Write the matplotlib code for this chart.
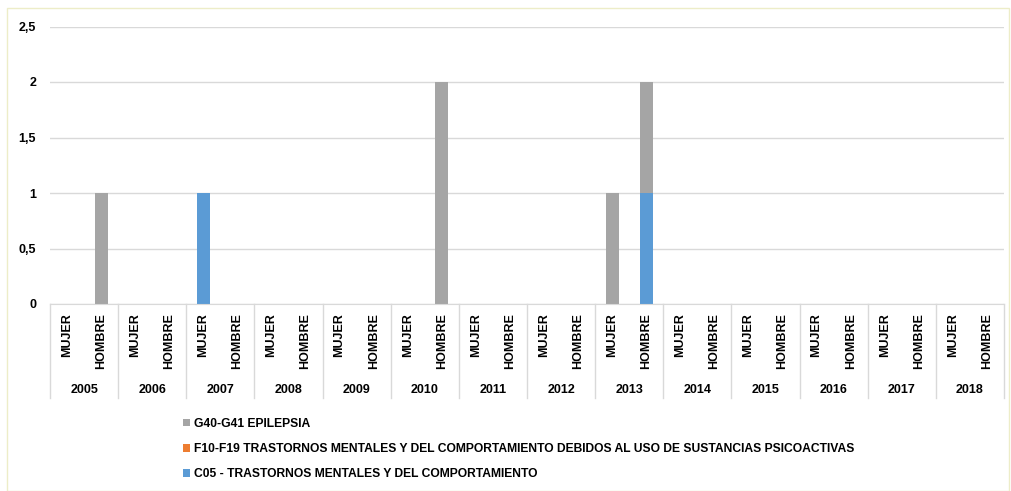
import matplotlib
matplotlib.use("Agg")
import matplotlib.pyplot as plt
from matplotlib.patches import Rectangle
from matplotlib.lines import Line2D
import numpy as np

plt.rcParams['font.family'] = ['Liberation Sans', 'DejaVu Sans']
plt.rcParams['font.weight'] = 'bold'

years = ['2005', '2006', '2007', '2008', '2009', '2010', '2011',
         '2012', '2013', '2014', '2015', '2016', '2017', '2018']
sexes = ['MUJER', 'HOMBRE']

# one value per (year, sex) pair, in order MUJER, HOMBRE
c05 = [0, 0, 0, 0, 1, 0, 0, 0, 0, 0, 0, 0, 0, 0,
       0, 0, 0, 1, 0, 0, 0, 0, 0, 0, 0, 0, 0, 0]
f10 = [0] * 28
g40 = [0, 1, 0, 0, 0, 0, 0, 0, 0, 0, 0, 2, 0, 0,
       0, 0, 1, 1, 0, 0, 0, 0, 0, 0, 0, 0, 0, 0]

labels = ['C05 - TRASTORNOS MENTALES Y DEL COMPORTAMIENTO',
          'F10-F19 TRASTORNOS MENTALES Y DEL COMPORTAMIENTO DEBIDOS AL USO DE SUSTANCIAS PSICOACTIVAS',
          'G40-G41 EPILEPSIA']
colors = ['#5B9BD5', '#ED7D31', '#A5A5A5']

fs = 9

fig = plt.figure(figsize=(10.11, 4.91), dpi=100)
ax = fig.add_axes([50/1011, 1-304/491, 954/1011, 277.5/491])

# outer chart border
fig.patches.append(Rectangle((7/1011, 0), 1002/1011, 1-8/491, transform=fig.transFigure,
                             fill=False, edgecolor='#EDEDC8', linewidth=1))

x = np.arange(len(c05))
w = 0.38
b1 = ax.bar(x, c05, w, color=colors[0])
b2 = ax.bar(x, f10, w, bottom=c05, color=colors[1])
base = np.array(c05) + np.array(f10)
b3 = ax.bar(x, g40, w, bottom=base, color=colors[2])

ax.set_xlim(-0.5, 27.5)
ax.set_ylim(0, 2.5)
ax.set_yticks([0, 0.5, 1, 1.5, 2, 2.5])
ax.set_yticklabels(['0', '0,5', '1', '1,5', '2', '2,5'], fontsize=fs, fontweight='bold')
ax.tick_params(axis='y', length=0, pad=10)
ax.set_xticks([])
ax.grid(axis='y', color='#D9D9D9', linewidth=1)
ax.set_axisbelow(True)
for s in ['top', 'right', 'left']:
    ax.spines[s].set_visible(False)
ax.spines['bottom'].set_color('#D9D9D9')

trans = ax.get_xaxis_transform()
h = 277.5
for i in range(len(x)):
    ax.text(x[i], -9/h, sexes[i % 2], rotation=90, ha='center', va='top',
            fontsize=fs, fontweight='bold', transform=trans)
for j, yr in enumerate(years):
    ax.text(2*j + 0.5, -86/h, yr, ha='center', va='center',
            fontsize=fs, fontweight='bold', transform=trans)
for k in range(len(years) + 1):
    ax.add_line(Line2D([2*k - 0.5, 2*k - 0.5], [0, -94/h], transform=trans,
                       color='#D9D9D9', linewidth=1, clip_on=False))

fig.legend([b3, b2, b1], [labels[2], labels[1], labels[0]],
           loc='upper left', bbox_to_anchor=(178/1011, 1-413/491),
           frameon=False, prop={'weight': 'bold', 'size': 8.7},
           handlelength=0.6, handleheight=0.6, handletextpad=0.3,
           labelspacing=1.1, borderaxespad=0)

fig.savefig('out.png', dpi=100)
